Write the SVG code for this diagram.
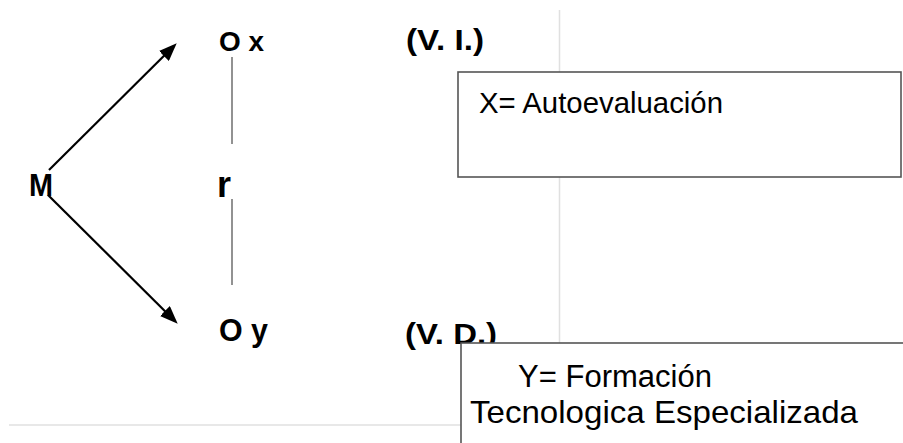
<svg xmlns="http://www.w3.org/2000/svg" width="903" height="443" viewBox="0 0 903 443">
<defs>
<style>
text{font-family:"Liberation Sans",Arial,sans-serif;fill:#000}
.b{font-weight:bold}
.guide{stroke:#e0e0e0;stroke-width:1.5;fill:none}
.rel{stroke:#777;stroke-width:1.6;fill:none}
.arr{stroke:#000;stroke-width:2.2;fill:none;marker-end:url(#ah)}
.box{fill:#fff;stroke:#555;stroke-width:1.6}
</style>
<marker id="ah" markerUnits="userSpaceOnUse" markerWidth="18" markerHeight="14" refX="8" refY="7" orient="auto">
<path d="M0,0 L18,7 L0,14 z" fill="#000"/>
</marker>
</defs>
<rect width="903" height="443" fill="#fff"/>
<g id="guides">
<line class="guide" x1="559.5" y1="10" x2="559.5" y2="343"/>
<line class="guide" x1="9" y1="425" x2="461" y2="425"/>
</g>
<g id="connectors">
<line class="arr" x1="49" y1="170" x2="169.6" y2="50.3"/>
<line class="arr" x1="48" y1="195" x2="170.6" y2="316.7"/>
<line class="rel" x1="232" y1="57" x2="232" y2="144"/>
<line class="rel" x1="232" y1="199" x2="232" y2="285"/>
</g>
<g id="M"><text class="b" x="29" y="196" font-size="32" textLength="24" lengthAdjust="spacingAndGlyphs">M</text></g>
<g id="Ox"><text class="b" x="219" y="51" font-size="27" textLength="45" lengthAdjust="spacingAndGlyphs">O x</text></g>
<g id="r"><text class="b" x="217" y="197" font-size="36" textLength="14" lengthAdjust="spacingAndGlyphs">r</text></g>
<g id="Oy"><text class="b" x="219" y="341" font-size="31" textLength="49" lengthAdjust="spacingAndGlyphs">O y</text></g>
<g id="VI"><text class="b" x="406" y="50" font-size="29" textLength="78" lengthAdjust="spacingAndGlyphs">(V. I.)</text></g>
<g id="VD"><text class="b" x="405" y="344" font-size="30" textLength="92" lengthAdjust="spacingAndGlyphs">(V. D.)</text></g>
<g id="boxX">
<rect class="box" x="458" y="72" width="443" height="105"/>
<text x="479" y="113" font-size="29" textLength="244" lengthAdjust="spacingAndGlyphs">X= Autoevaluación</text>
</g>
<g id="boxY">
<rect class="box" x="461" y="343" width="470" height="130"/>
<text x="518" y="387" font-size="31" textLength="194" lengthAdjust="spacingAndGlyphs">Y= Formación</text>
<text x="470" y="423" font-size="32" textLength="388" lengthAdjust="spacingAndGlyphs">Tecnologica Especializada</text>
</g>
</svg>
